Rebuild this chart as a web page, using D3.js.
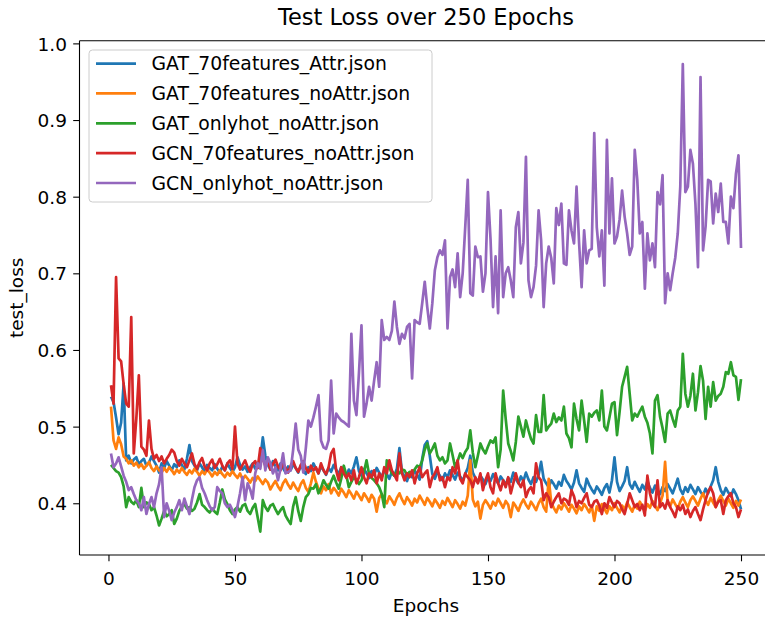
<!DOCTYPE html>
<html>
<head>
<meta charset="utf-8">
<script src="https://cdn.jsdelivr.net/npm/d3@7"></script>
<style>
body { margin: 0; background: #fff; }
svg { display: block; font-family: 'DejaVu Sans', sans-serif; }
</style>
</head>
<body>
<svg></svg>
<script>
const width = 765;
const height = 619;

const seriesNames = [
	'GAT_70features_Attr.json',
	'GAT_70features_noAttr.json',
	'GAT_onlyhot_noAttr.json',
	'GCN_70features_noAttr.json',
	'GCN_onlyhot_noAttr.json'
];
const xTicks = [0, 50, 100, 150, 200, 250];
const yTicks = [0.4, 0.5, 0.6, 0.7, 0.8, 0.9, 1.0];

const gatAttr = [
0.539,0.532,0.512,0.490,0.505,0.556,0.456,0.462,0.452,0.457,
0.460,0.451,0.455,0.458,0.449,0.453,0.461,0.455,0.449,0.440,
0.452,0.446,0.455,0.449,0.443,0.451,0.447,0.456,0.450,0.444,
0.458,0.476,0.455,0.449,0.443,0.452,0.447,0.441,0.450,0.446,
0.443,0.451,0.445,0.440,0.448,0.443,0.452,0.446,0.441,0.447,
0.460,0.450,0.444,0.448,0.441,0.447,0.452,0.445,0.450,0.458,
0.486,0.462,0.450,0.444,0.455,0.448,0.443,0.452,0.446,0.440,
0.448,0.443,0.451,0.446,0.440,0.449,0.444,0.438,0.447,0.442,
0.452,0.445,0.439,0.448,0.443,0.437,0.446,0.441,0.450,0.444,
0.438,0.447,0.441,0.435,0.444,0.439,0.448,0.460,0.442,0.436,
0.445,0.439,0.433,0.442,0.437,0.446,0.440,0.434,0.443,0.438,
0.432,0.441,0.436,0.445,0.472,0.441,0.435,0.429,0.439,0.434,
0.443,0.437,0.431,0.458,0.476,0.481,0.462,0.438,0.432,0.441,
0.436,0.430,0.439,0.434,0.443,0.437,0.431,0.440,0.435,0.429,
0.438,0.446,0.462,0.440,0.433,0.427,0.436,0.431,0.425,0.434,
0.429,0.438,0.432,0.426,0.435,0.430,0.424,0.433,0.428,0.440,
0.432,0.426,0.435,0.429,0.440,0.431,0.425,0.434,0.428,0.437,
0.454,0.432,0.426,0.421,0.430,0.425,0.419,0.428,0.423,0.437,
0.429,0.424,0.418,0.427,0.443,0.426,0.420,0.415,0.432,0.424,
0.418,0.413,0.422,0.417,0.411,0.420,0.425,0.414,0.430,0.460,
0.428,0.416,0.422,0.429,0.447,0.425,0.419,0.428,0.421,0.415,
0.424,0.418,0.429,0.420,0.414,0.423,0.417,0.412,0.421,0.416,
0.425,0.419,0.413,0.422,0.432,0.418,0.412,0.421,0.415,0.424,
0.418,0.412,0.421,0.415,0.410,0.419,0.413,0.422,0.430,0.447,
0.428,0.417,0.411,0.420,0.414,0.409,0.418,0.412,0.404,0.392
];

const gatNoAttr = [
0.526,0.482,0.471,0.486,0.477,0.461,0.458,0.452,0.456,0.449,
0.453,0.447,0.451,0.445,0.449,0.454,0.446,0.442,0.448,0.443,
0.440,0.446,0.441,0.447,0.443,0.438,0.444,0.440,0.446,0.441,
0.437,0.443,0.439,0.445,0.441,0.436,0.442,0.438,0.444,0.440,
0.435,0.441,0.437,0.443,0.438,0.434,0.440,0.436,0.442,0.437,
0.433,0.439,0.431,0.436,0.432,0.427,0.433,0.429,0.435,0.430,
0.425,0.431,0.427,0.418,0.424,0.429,0.422,0.417,0.426,0.431,
0.424,0.419,0.427,0.421,0.416,0.425,0.430,0.420,0.415,0.426,
0.440,0.428,0.419,0.413,0.422,0.417,0.425,0.413,0.420,0.416,
0.410,0.419,0.414,0.408,0.417,0.412,0.406,0.415,0.410,0.404,
0.413,0.408,0.402,0.411,0.406,0.389,0.407,0.412,0.405,0.400,
0.409,0.404,0.398,0.407,0.413,0.405,0.399,0.408,0.403,0.397,
0.406,0.401,0.410,0.404,0.398,0.407,0.402,0.396,0.405,0.400,
0.394,0.403,0.398,0.407,0.401,0.395,0.404,0.399,0.393,0.402,
0.397,0.410,0.456,0.405,0.396,0.402,0.380,0.398,0.404,0.399,
0.393,0.402,0.397,0.406,0.400,0.394,0.403,0.398,0.382,0.401,
0.396,0.390,0.399,0.405,0.398,0.393,0.402,0.397,0.391,0.400,
0.406,0.395,0.389,0.432,0.401,0.394,0.388,0.397,0.392,0.400,
0.395,0.389,0.398,0.393,0.387,0.396,0.391,0.399,0.394,0.388,
0.397,0.377,0.396,0.390,0.399,0.393,0.387,0.396,0.391,0.400,
0.394,0.388,0.397,0.392,0.401,0.395,0.389,0.398,0.393,0.402,
0.396,0.390,0.399,0.394,0.403,0.397,0.391,0.400,0.410,0.454,
0.402,0.396,0.405,0.399,0.393,0.402,0.408,0.401,0.395,0.404,
0.409,0.403,0.397,0.406,0.413,0.404,0.398,0.407,0.401,0.395,
0.404,0.410,0.403,0.397,0.406,0.400,0.394,0.403,0.397,0.405
];

const gatOnlyhot = [
0.450,0.446,0.442,0.440,0.434,0.422,0.395,0.408,0.402,0.399,
0.404,0.395,0.420,0.395,0.401,0.399,0.391,0.395,0.384,0.371,
0.380,0.390,0.383,0.386,0.391,0.373,0.380,0.390,0.396,0.399,
0.393,0.395,0.390,0.393,0.401,0.412,0.398,0.395,0.391,0.388,
0.393,0.389,0.386,0.401,0.418,0.405,0.399,0.391,0.386,0.392,
0.395,0.389,0.397,0.399,0.390,0.386,0.394,0.399,0.381,0.363,
0.404,0.395,0.390,0.397,0.399,0.392,0.386,0.391,0.395,0.384,
0.378,0.373,0.396,0.408,0.390,0.377,0.395,0.408,0.412,0.420,
0.419,0.425,0.413,0.420,0.430,0.424,0.419,0.428,0.436,0.427,
0.419,0.432,0.449,0.437,0.421,0.428,0.434,0.430,0.425,0.430,
0.441,0.456,0.438,0.433,0.430,0.426,0.421,0.412,0.395,0.456,
0.447,0.439,0.436,0.441,0.439,0.444,0.443,0.437,0.441,0.439,
0.444,0.449,0.447,0.456,0.470,0.478,0.465,0.471,0.478,0.462,
0.456,0.460,0.452,0.456,0.478,0.463,0.447,0.455,0.465,0.459,
0.467,0.472,0.495,0.466,0.447,0.462,0.478,0.470,0.465,0.474,
0.482,0.479,0.486,0.447,0.470,0.547,0.510,0.478,0.468,0.456,
0.480,0.513,0.500,0.487,0.508,0.495,0.484,0.478,0.515,0.493,
0.493,0.541,0.495,0.500,0.504,0.517,0.506,0.512,0.508,0.526,
0.491,0.485,0.473,0.530,0.510,0.495,0.534,0.508,0.480,0.517,
0.513,0.518,0.521,0.508,0.547,0.500,0.495,0.512,0.530,0.532,
0.489,0.519,0.552,0.565,0.578,0.543,0.508,0.517,0.513,0.520,
0.526,0.513,0.505,0.491,0.465,0.534,0.541,0.513,0.498,0.480,
0.517,0.521,0.510,0.500,0.521,0.526,0.595,0.543,0.526,0.540,
0.569,0.521,0.545,0.579,0.560,0.510,0.552,0.526,0.558,0.534,
0.540,0.543,0.552,0.571,0.569,0.584,0.567,0.565,0.535,0.562
];

const gcnNoAttr = [
0.554,0.530,0.695,0.589,0.585,0.555,0.530,0.526,0.643,0.465,
0.510,0.567,0.474,0.470,0.462,0.508,0.471,0.458,0.463,0.455,
0.461,0.452,0.458,0.463,0.470,0.466,0.455,0.449,0.458,0.452,
0.447,0.456,0.465,0.451,0.445,0.454,0.459,0.448,0.443,0.452,
0.457,0.446,0.451,0.458,0.449,0.443,0.452,0.456,0.445,0.500,
0.452,0.444,0.450,0.456,0.447,0.441,0.451,0.455,0.446,0.472,
0.458,0.449,0.455,0.444,0.451,0.457,0.448,0.443,0.452,0.446,
0.440,0.449,0.455,0.446,0.441,0.450,0.455,0.446,0.440,0.449,
0.443,0.447,0.439,0.452,0.443,0.438,0.447,0.465,0.471,0.443,
0.430,0.447,0.439,0.433,0.439,0.430,0.443,0.426,0.434,0.447,
0.434,0.426,0.439,0.434,0.443,0.426,0.439,0.430,0.447,0.439,
0.456,0.443,0.437,0.430,0.465,0.439,0.430,0.439,0.434,0.443,
0.426,0.439,0.447,0.434,0.439,0.443,0.421,0.434,0.439,0.447,
0.430,0.434,0.421,0.434,0.430,0.447,0.439,0.456,0.432,0.426,
0.439,0.434,0.430,0.421,0.434,0.426,0.439,0.417,0.430,0.439,
0.421,0.413,0.439,0.426,0.417,0.430,0.421,0.434,0.413,0.426,
0.439,0.427,0.421,0.430,0.408,0.417,0.421,0.413,0.452,0.434,
0.430,0.404,0.413,0.408,0.395,0.402,0.408,0.413,0.400,0.406,
0.404,0.398,0.417,0.409,0.395,0.403,0.400,0.407,0.413,0.398,
0.395,0.402,0.404,0.397,0.386,0.400,0.394,0.408,0.401,0.395,
0.403,0.400,0.392,0.386,0.399,0.413,0.404,0.395,0.399,0.391,
0.398,0.384,0.436,0.413,0.400,0.395,0.430,0.395,0.400,0.393,
0.404,0.395,0.389,0.382,0.396,0.391,0.398,0.386,0.392,0.382,
0.390,0.395,0.386,0.378,0.392,0.404,0.415,0.421,0.413,0.395,
0.402,0.404,0.386,0.404,0.409,0.413,0.400,0.395,0.382,0.392
];

const gcnOnlyhot = [
0.465,0.447,0.452,0.460,0.448,0.436,0.428,0.417,0.421,0.412,
0.404,0.400,0.391,0.408,0.386,0.399,0.408,0.395,0.413,0.425,
0.447,0.382,0.400,0.390,0.378,0.388,0.395,0.404,0.391,0.406,
0.396,0.386,0.405,0.421,0.430,0.434,0.420,0.413,0.404,0.396,
0.391,0.395,0.421,0.416,0.413,0.400,0.395,0.398,0.391,0.382,
0.396,0.413,0.434,0.404,0.426,0.418,0.406,0.439,0.452,0.445,
0.469,0.443,0.460,0.452,0.439,0.447,0.430,0.445,0.465,0.439,
0.441,0.443,0.470,0.504,0.470,0.462,0.440,0.472,0.508,0.500,
0.512,0.526,0.541,0.482,0.473,0.471,0.482,0.560,0.491,0.517,
0.512,0.508,0.506,0.503,0.500,0.621,0.534,0.515,0.570,0.632,
0.513,0.530,0.552,0.534,0.560,0.584,0.552,0.639,0.613,0.617,
0.613,0.625,0.663,0.630,0.608,0.621,0.615,0.630,0.634,0.563,
0.639,0.636,0.634,0.661,0.689,0.656,0.628,0.661,0.704,0.721,
0.730,0.724,0.743,0.628,0.695,0.705,0.682,0.726,0.669,0.700,
0.760,0.822,0.674,0.671,0.735,0.721,0.722,0.676,0.700,0.806,
0.745,0.656,0.722,0.648,0.782,0.669,0.700,0.708,0.691,0.669,
0.760,0.780,0.713,0.740,0.852,0.691,0.669,0.682,0.710,0.782,
0.743,0.656,0.713,0.735,0.720,0.687,0.785,0.763,0.791,0.713,
0.711,0.782,0.756,0.739,0.813,0.740,0.682,0.756,0.713,0.730,
0.732,0.883,0.760,0.722,0.756,0.684,0.874,0.752,0.824,0.739,
0.748,0.770,0.808,0.774,0.752,0.724,0.735,0.861,0.822,0.752,
0.767,0.680,0.752,0.717,0.739,0.708,0.806,0.790,0.828,0.661,
0.700,0.678,0.700,0.720,0.752,0.813,0.973,0.806,0.813,0.861,
0.843,0.790,0.708,0.956,0.730,0.761,0.822,0.820,0.765,0.804,
0.780,0.817,0.767,0.767,0.739,0.800,0.785,0.830,0.854,0.733
];

const series = [gatAttr, gatNoAttr, gatOnlyhot, gcnNoAttr, gcnOnlyhot];
const epochs = d3.range(1, gatAttr.length + 1);
const colors = d3.schemeCategory10;

// axes box (right edge falls outside the picture, like the original crop)
const plotLeft = 79.5;
const plotTop = 40.7;
const plotRight = 772.5;
const plotBottom = 555;

const svg = d3.select('svg')
	.attr('width', width)
	.attr('height', height);

svg.append('rect')
	.attr('width', width)
	.attr('height', height)
	.attr('fill', '#fff');

// matplotlib style 5% margins
const xPad = (d3.max(epochs) - d3.min(epochs)) * 0.05;
const allValues = series.flat();
const yPad = (d3.max(allValues) - d3.min(allValues)) * 0.05;

const xScale = d3.scaleLinear()
	.domain([d3.min(epochs) - xPad, d3.max(epochs) + xPad])
	.range([plotLeft, plotRight]);
const yScale = d3.scaleLinear()
	.domain([d3.min(allValues) - yPad, d3.max(allValues) + yPad])
	.range([plotBottom, plotTop]);

svg.append('defs').append('clipPath')
	.attr('id', 'plot-clip')
	.append('rect')
	.attr('x', plotLeft)
	.attr('y', plotTop)
	.attr('width', plotRight - plotLeft)
	.attr('height', plotBottom - plotTop);

const line = d3.line()
	.x((d, i) => xScale(epochs[i]))
	.y(d => yScale(d));

svg.append('g')
	.attr('clip-path', 'url(#plot-clip)')
	.selectAll('path')
	.data(series)
	.enter()
	.append('path')
	.attr('fill', 'none')
	.attr('stroke', (d, i) => colors[i])
	.attr('stroke-width', 2.7)
	.attr('stroke-linejoin', 'round')
	.attr('d', line);

// ticks
const xAxis = svg.append('g')
	.attr('transform', `translate(0,${plotBottom})`)
	.call(d3.axisBottom(xScale).tickValues(xTicks).tickSize(6.3).tickPadding(6.3).tickSizeOuter(0));
xAxis.select('.domain').remove();
xAxis.selectAll('line').attr('stroke', '#000').attr('stroke-width', 1.1);
xAxis.selectAll('text')
	.attr('dy', null)
	.attr('y', 30)
	.attr('fill', '#000')
	.style('font-family', 'DejaVu Sans')
	.style('font-size', '18.5px');

const yAxis = svg.append('g')
	.attr('transform', `translate(${plotLeft},0)`)
	.call(d3.axisLeft(yScale).tickValues(yTicks).tickFormat(d3.format('.1f')).tickSize(6.3).tickPadding(6.3).tickSizeOuter(0));
yAxis.select('.domain').remove();
yAxis.selectAll('line').attr('stroke', '#000').attr('stroke-width', 1.1);
yAxis.selectAll('text')
	.attr('dy', '0.36em')
	.attr('fill', '#000')
	.style('font-family', 'DejaVu Sans')
	.style('font-size', '18.5px');

// spines
const spines = svg.append('g')
	.attr('stroke', '#000')
	.attr('stroke-width', 1.1)
	.attr('fill', 'none');
spines.append('line').attr('x1', plotLeft).attr('x2', plotLeft).attr('y1', plotTop).attr('y2', plotBottom);
spines.append('line').attr('x1', plotLeft).attr('x2', plotRight).attr('y1', plotBottom).attr('y2', plotBottom);
spines.append('line').attr('x1', plotLeft).attr('x2', plotRight).attr('y1', plotTop).attr('y2', plotTop);

// title and labels
svg.append('text')
	.attr('x', (plotLeft + plotRight) / 2)
	.attr('y', 25)
	.attr('text-anchor', 'middle')
	.style('font-size', '22.5px')
	.text('Test Loss over 250 Epochs');

svg.append('text')
	.attr('x', (plotLeft + plotRight) / 2)
	.attr('y', 612)
	.attr('text-anchor', 'middle')
	.style('font-size', '18.5px')
	.text('Epochs');

svg.append('text')
	.attr('transform', `translate(23,${(plotTop + plotBottom) / 2}) rotate(-90)`)
	.attr('text-anchor', 'middle')
	.style('font-size', '18.5px')
	.text('test_loss');

// legend
const legendX = plotLeft + 9.5;
const legendY = plotTop + 9.3;
const rowGap = 29.85;

const legend = svg.append('g');
legend.append('rect')
	.attr('x', legendX)
	.attr('y', legendY)
	.attr('width', 343)
	.attr('height', 152)
	.attr('rx', 3.5)
	.attr('fill', '#fff')
	.attr('fill-opacity', 0.8)
	.attr('stroke', '#cccccc')
	.attr('stroke-width', 1);

const rows = legend.selectAll('g.row')
	.data(seriesNames)
	.enter()
	.append('g')
	.attr('class', 'row')
	.attr('transform', (d, i) => `translate(${legendX},${legendY + 13.6 + i * rowGap})`);

rows.append('line')
	.attr('x1', 7)
	.attr('x2', 47)
	.attr('stroke', (d, i) => colors[i])
	.attr('stroke-width', 2.7);

rows.append('text')
	.attr('x', 62.5)
	.attr('dy', '0.36em')
	.style('font-size', '18.8px')
	.attr('fill', '#000')
	.text(d => d);
</script>
</body>
</html>
